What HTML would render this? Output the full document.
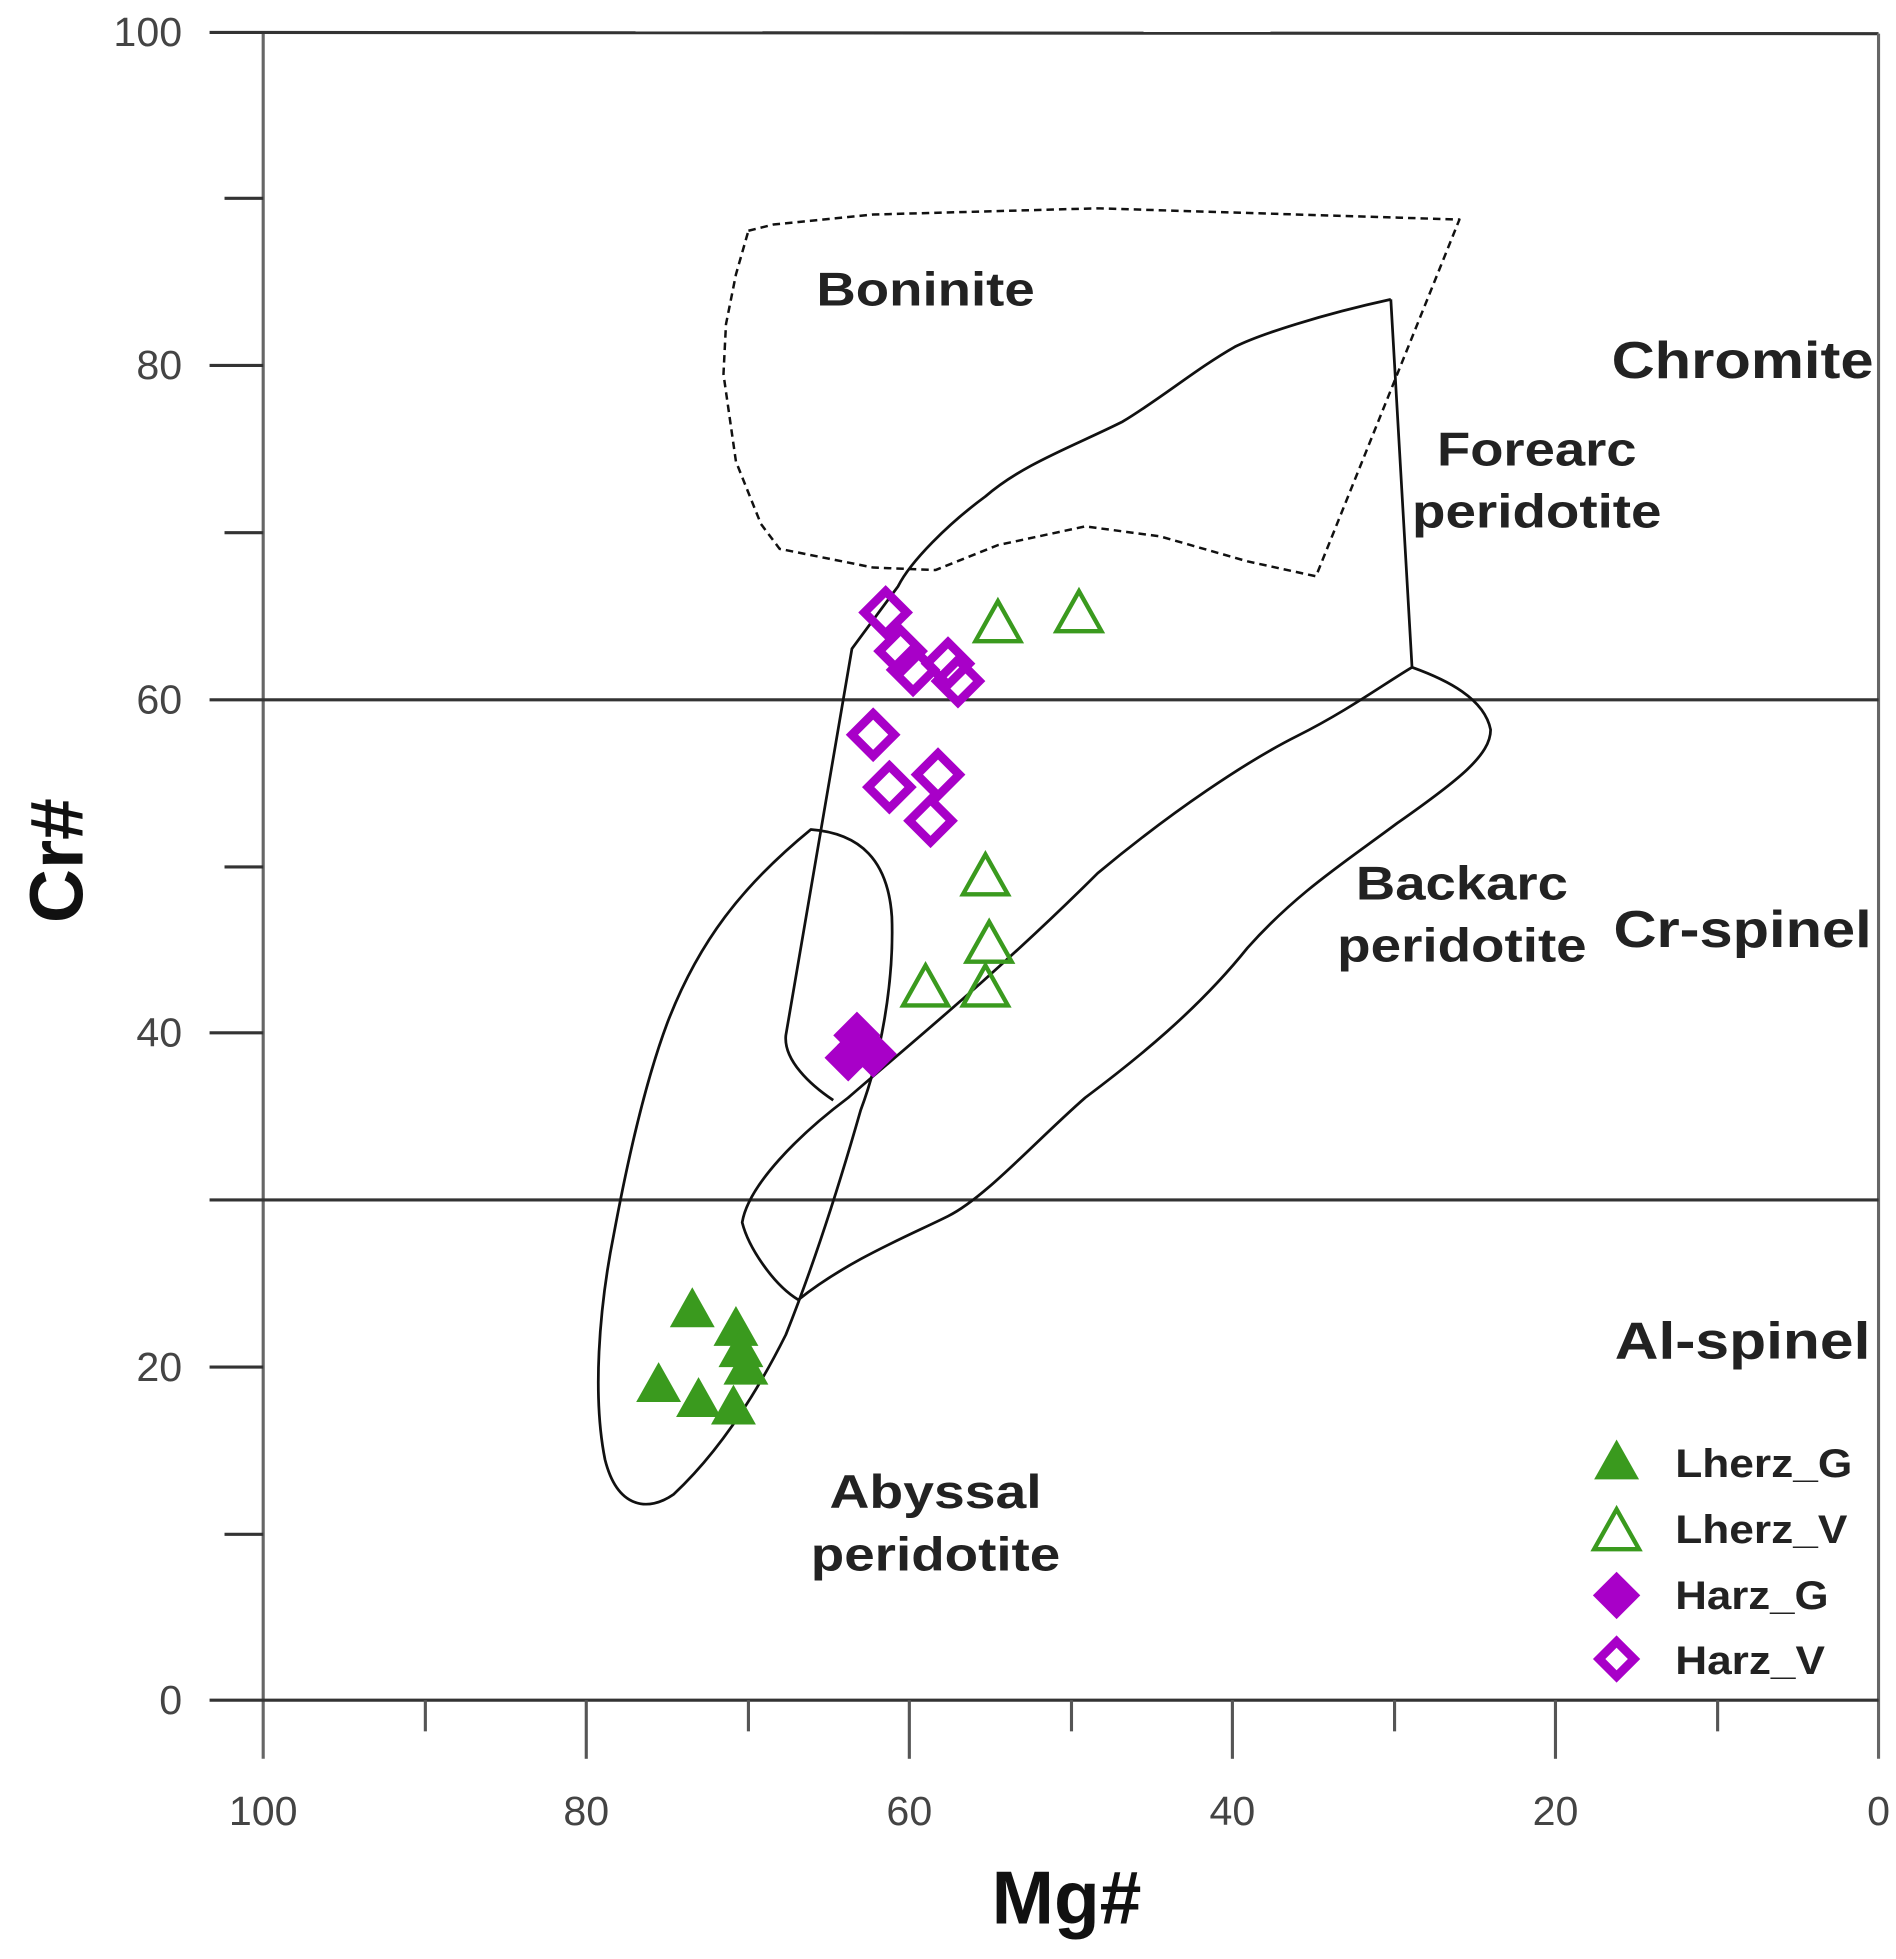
<!DOCTYPE html>
<html><head><meta charset="utf-8"><style>html,body{margin:0;padding:0;background:#fff}svg{display:block}</style></head>
<body>
<svg width="1896" height="1959" viewBox="0 0 1520 1570.5" preserveAspectRatio="none" xmlns="http://www.w3.org/2000/svg" font-family="Liberation Sans, Arial, sans-serif">
<defs>
<polygon id="tri" points="0,-18 18,14 -18,14"/>
<polygon id="dia" points="0,-19 19,0 0,19 -19,0"/>
</defs>
<g stroke="#333" stroke-width="2.5" fill="none">
<line x1="211" y1="26" x2="211" y2="1410" stroke="#666"/>
<line x1="168" y1="26" x2="1506" y2="27"/>
<line x1="1506" y1="27" x2="1506" y2="1410" stroke="#666"/>
<line x1="168" y1="1363" x2="1506" y2="1363"/>
<line x1="168" y1="561" x2="1506" y2="561"/>
<line x1="168" y1="962" x2="1506" y2="962"/>
<line x1="168" y1="293" x2="211" y2="293"/>
<line x1="168" y1="828" x2="211" y2="828"/>
<line x1="168" y1="1096" x2="211" y2="1096"/>
<line x1="180" y1="159" x2="211" y2="159"/>
<line x1="180" y1="427" x2="211" y2="427"/>
<line x1="180" y1="695" x2="211" y2="695"/>
<line x1="180" y1="1230" x2="211" y2="1230"/>
<g stroke="#555">
<line x1="470" y1="1363" x2="470" y2="1410"/>
<line x1="729" y1="1363" x2="729" y2="1410"/>
<line x1="988" y1="1363" x2="988" y2="1410"/>
<line x1="1247" y1="1363" x2="1247" y2="1410"/>
<line x1="341" y1="1363" x2="341" y2="1388"/>
<line x1="600" y1="1363" x2="600" y2="1388"/>
<line x1="859" y1="1363" x2="859" y2="1388"/>
<line x1="1118" y1="1363" x2="1118" y2="1388"/>
<line x1="1377" y1="1363" x2="1377" y2="1388"/>
</g>
</g>
<g fill="#444" font-size="33" text-anchor="end">
<text x="146" y="37">100</text><text x="146" y="304">80</text><text x="146" y="572">60</text>
<text x="146" y="839">40</text><text x="146" y="1107">20</text><text x="146" y="1374">0</text>
</g>
<g fill="#444" font-size="33" text-anchor="middle">
<text x="211" y="1463">100</text><text x="470" y="1463">80</text><text x="729" y="1463">60</text>
<text x="988" y="1463">40</text><text x="1247" y="1463">20</text><text x="1506" y="1463">0</text>
</g>
<text x="855" y="1542" font-size="60" font-weight="bold" text-anchor="middle" fill="#111">Mg#</text>
<text transform="translate(66,690) rotate(-90)" font-size="60" font-weight="bold" text-anchor="middle" fill="#111">Cr#</text>

<g fill="none" stroke="#111" stroke-width="2.2" stroke-linejoin="round">
<polygon stroke-dasharray="6,4" stroke-width="2" points="600,185 620,180 700,172 880,167 1170,176 1055,462 1000,450 930,430 870,422 800,437 750,457 700,455 625,440 610,420 590,370 580,300 582,260 590,220"/>
<path d="M1115,240 L1132,535 M1115,240 C1060,252 1010,268 990,278 C960,295 930,320 900,338 C860,358 820,372 790,398 C760,420 730,450 720,470 L683,520 L630,830 C628,850 650,870 668,882"/>
<path d="M1132,535 C1160,545 1190,560 1195,585 C1195,605 1170,625 1120,660 C1080,690 1040,715 1000,760 C960,810 910,850 870,880 C830,915 790,960 760,975 C730,990 680,1010 640,1042 C620,1030 600,1000 595,980 C600,950 640,910 680,880 C720,845 800,780 880,700 C940,650 1000,610 1040,590 C1080,570 1110,548 1132,535 Z"/>
<path d="M650,665 C690,668 712,690 715,735 C717,790 705,850 690,890 C670,960 650,1020 630,1070 C600,1130 570,1170 540,1198 C520,1212 495,1210 485,1170 C475,1120 480,1050 492,990 C505,920 520,860 535,820 C560,755 595,710 650,665 Z"/>
</g>

<g fill="#222" font-weight="bold" text-anchor="middle">
<text x="742" y="245" font-size="38" textLength="175" lengthAdjust="spacingAndGlyphs">Boninite</text>
<text x="1397" y="303" font-size="42" textLength="210" lengthAdjust="spacingAndGlyphs">Chromite</text>
<text x="1232" y="373" font-size="38" textLength="160" lengthAdjust="spacingAndGlyphs">Forearc</text>
<text x="1232" y="423" font-size="38" textLength="200" lengthAdjust="spacingAndGlyphs">peridotite</text>
<text x="1172" y="721" font-size="38" textLength="170" lengthAdjust="spacingAndGlyphs">Backarc</text>
<text x="1172" y="771" font-size="38" textLength="200" lengthAdjust="spacingAndGlyphs">peridotite</text>
<text x="1397" y="759" font-size="42" textLength="207" lengthAdjust="spacingAndGlyphs">Cr-spinel</text>
<text x="1397" y="1089" font-size="42" textLength="205" lengthAdjust="spacingAndGlyphs">Al-spinel</text>
<text x="750" y="1209" font-size="38" textLength="170" lengthAdjust="spacingAndGlyphs">Abyssal</text>
<text x="750" y="1259" font-size="38" textLength="200" lengthAdjust="spacingAndGlyphs">peridotite</text>
</g>

<g fill="none" stroke="#3a9a1e" stroke-width="3.5">
<use href="#tri" x="800" y="500"/><use href="#tri" x="865" y="492"/><use href="#tri" x="790" y="703"/>
<use href="#tri" x="793" y="757"/><use href="#tri" x="742" y="792"/><use href="#tri" x="790" y="792"/>
<use href="#tri" x="1296" y="1228"/>
</g>
<g fill="#3a9a1e">
<use href="#tri" x="555" y="1050"/><use href="#tri" x="528" y="1110"/><use href="#tri" x="560" y="1122"/>
<use href="#tri" x="590" y="1065"/><use href="#tri" x="598" y="1096"/><use href="#tri" x="588" y="1128"/>
<use href="#tri" x="594" y="1082"/>
<use href="#tri" x="1296" y="1172"/>
</g>
<g fill="#a800c8">
<use href="#dia" x="687" y="830"/><use href="#dia" x="680" y="848"/><use href="#dia" x="700" y="845"/><use href="#dia" x="690" y="838"/>
<use href="#dia" x="1296" y="1279"/>
</g>
<g fill="none" stroke="#a800c8" stroke-width="7">
<polygon points="710,474 727,491 710,508 693,491"/>
<polygon points="722,505 739,522 722,539 705,522"/>
<polygon points="732,520 749,537 732,554 715,537"/>
<polygon points="760,515 777,532 760,549 743,532"/>
<polygon points="768,529 785,546 768,563 751,546"/>
<polygon points="700,572 717,589 700,606 683,589"/>
<polygon points="752,604 769,621 752,638 735,621"/>
<polygon points="713,614 730,631 713,648 696,631"/>
<polygon points="746,641 763,658 746,675 729,658"/>
<polygon points="1296,1316 1310,1330 1296,1344 1282,1330"/>
</g>
<g fill="#222" font-weight="bold" font-size="32">
<text x="1343" y="1184" textLength="142" lengthAdjust="spacingAndGlyphs">Lherz_G</text>
<text x="1343" y="1237" textLength="138" lengthAdjust="spacingAndGlyphs">Lherz_V</text>
<text x="1343" y="1290" textLength="123" lengthAdjust="spacingAndGlyphs">Harz_G</text>
<text x="1343" y="1342" textLength="120" lengthAdjust="spacingAndGlyphs">Harz_V</text>
</g>
</svg>
</body></html>
